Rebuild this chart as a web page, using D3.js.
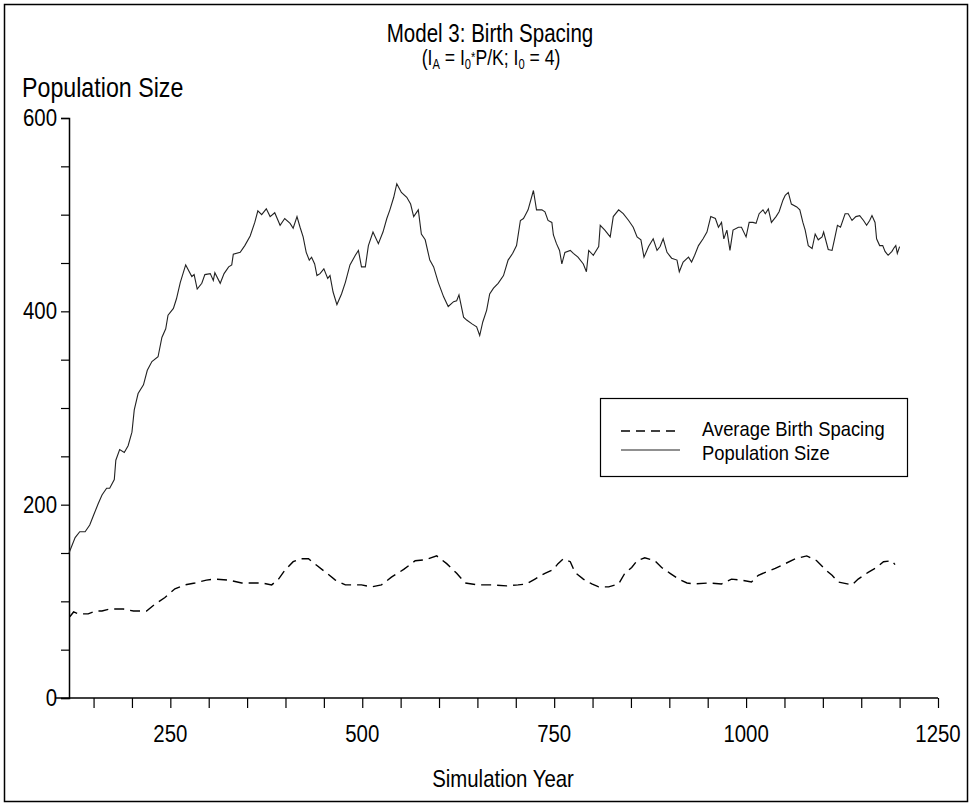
<!DOCTYPE html>
<html>
<head>
<meta charset="utf-8">
<script src="https://cdn.jsdelivr.net/npm/d3@7"></script>
<style>
  body { margin: 0; background: #fff; }
  svg text { font-family: "Liberation Sans", Arial, sans-serif; fill: #000; }
</style>
</head>
<body>
<div id="chart"></div>
<script>
// population size (year, value)
var popYear = [118, 126, 132, 139, 145, 150, 156, 161, 167, 171, 177, 179, 184, 190, 195, 200, 203, 208,
  215, 220, 226, 234, 239, 244, 247, 254, 258, 263, 270, 278, 281, 285, 291, 295, 302, 306, 308, 315,
  320, 326, 330, 332, 341, 347, 354, 360, 364, 369, 375, 380, 386, 393, 399, 406, 410, 415, 419, 423,
  427, 431, 434, 438, 441, 445, 450, 455, 458, 462, 467, 473, 478, 484, 491, 495, 499, 504, 508, 514,
  521, 527, 532, 536, 541, 545, 551, 558, 563, 567, 573, 577, 582, 588, 593, 599, 606, 612, 619, 623,
  626, 632, 636, 643, 649, 653, 657, 662, 666, 671, 677, 684, 690, 696, 701, 706, 710, 712, 716, 723,
  727, 734, 738, 742, 747, 749, 753, 757, 760, 764, 771, 775, 781, 788, 792, 795, 801, 808, 810, 816,
  823, 827, 834, 840, 847, 853, 858, 863, 867, 873, 879, 884, 888, 892, 897, 903, 910, 913, 918, 925,
  929, 933, 938, 944, 949, 954, 960, 964, 968, 971, 975, 979, 983, 990, 994, 1000, 1004, 1009, 1013,
  1017, 1022, 1025, 1029, 1033, 1039, 1043, 1048, 1051, 1055, 1059, 1066, 1070, 1074, 1077, 1081,
  1086, 1090, 1094, 1099, 1101, 1107, 1112, 1115, 1119, 1123, 1129, 1133, 1138, 1143, 1148, 1153,
  1157, 1161, 1164, 1168, 1170, 1174, 1178, 1181, 1185, 1190, 1193, 1195, 1197, 1200];
var popSize = [150, 166, 172, 172, 179, 189, 201, 210, 217, 217, 226, 246, 257, 254, 261, 275, 298, 315,
  324, 339, 348, 353, 373, 382, 396, 403, 413, 430, 448, 436, 438, 423, 429, 438, 439, 432, 440, 429,
  439, 446, 448, 459, 461, 468, 478, 492, 504, 500, 506, 498, 502, 489, 496, 491, 486, 498, 487, 477,
  461, 453, 456, 449, 437, 439, 444, 434, 437, 420, 407, 418, 430, 448, 458, 463, 446, 446, 468, 482,
  470, 482, 496, 505, 518, 532, 523, 518, 511, 498, 505, 480, 474, 453, 446, 430, 415, 405, 410, 411,
  417, 394, 391, 387, 384, 375, 389, 401, 418, 424, 429, 437, 453, 460, 468, 494, 496, 499, 505, 525,
  505, 505, 503, 494, 492, 479, 470, 463, 449, 461, 463, 460, 456, 449, 441, 463, 458, 467, 489, 484,
  477, 498, 505, 501, 494, 487, 477, 474, 456, 467, 475, 463, 467, 475, 461, 455, 453, 441, 451, 456,
  451, 458, 468, 475, 482, 498, 496, 487, 492, 475, 484, 463, 484, 487, 487, 477, 492, 492, 491, 501,
  505, 501, 506, 492, 498, 503, 515, 520, 523, 511, 508, 505, 492, 484, 468, 465,
  480, 474, 477, 482, 464, 463, 474, 489, 487, 501, 501, 494, 498, 499, 494, 489,
  494, 499, 492, 475, 468, 468, 462, 458, 462, 466, 468, 460, 467, 464];

// average birth spacing (year, value)
var spacingYear = [119, 124, 130, 143, 152, 161, 171, 189, 202, 219, 230, 243, 256, 269, 282, 297, 308,
  326, 343, 369, 382, 391, 399, 410, 419, 430, 441, 454, 465, 478, 499, 512, 525, 538, 554, 569, 582,
  597, 610, 623, 634, 651, 669, 688, 703, 714, 725, 738, 749, 755, 762, 771, 777, 788, 799, 808, 821,
  834, 842, 851, 858, 868, 881, 890, 901, 912, 923, 933, 951, 968, 981, 994, 1007, 1016, 1025, 1038,
  1051, 1064, 1079, 1092, 1103, 1112, 1120, 1138, 1146, 1159, 1170, 1179, 1190, 1194];
var spacingValue = [84, 89, 87, 87, 90, 90, 92, 92, 90, 90, 97, 104, 113, 117, 119, 122, 123, 122, 119,
  119, 117, 123, 132, 141, 144, 144, 137, 129, 122, 117, 117, 115, 117, 125, 133, 142, 143, 147, 139,
  129, 119, 117, 117, 116, 117, 118, 123, 129, 133, 139, 144, 141, 130, 123, 118, 115, 115, 118, 129,
  135, 142, 145, 142, 135, 129, 123, 119, 118, 119, 118, 123, 122, 120, 127, 130, 134, 139, 144, 147,
  142, 133, 127, 120, 117, 123, 130, 135, 141, 142, 138];

var yTicks = [0, 200, 400, 600];
var xTicks = [250, 500, 750, 1000, 1250];

var W = 972, H = 806;
var svg = d3.select("#chart").append("svg")
    .attr("width", W)
    .attr("height", H);

// outer frame
svg.append("rect")
    .attr("x", 4.5).attr("y", 4.5)
    .attr("width", W - 9).attr("height", H - 9)
    .attr("fill", "none").attr("stroke", "#000").attr("stroke-width", 1.5);

var x = d3.scaleLinear().domain([118, 1250]).range([69, 938]);
var y = d3.scaleLinear().domain([0, 600]).range([698, 118]);

// condensed text helper (the original font is narrow)
function ctext(px, py, str, size, anchor, sx) {
    return svg.append("text")
        .attr("transform", `translate(${px},${py}) scale(${sx || 0.85},1)`)
        .attr("text-anchor", anchor || "start")
        .style("font-size", size + "px")
        .text(str);
}

// axes
var xAxis = svg.append("g")
    .attr("transform", "translate(0,698)")
    .call(d3.axisBottom(x).tickValues(d3.range(150, 1251, 50)).tickSize(10).tickFormat(""));
var yAxis = svg.append("g")
    .attr("transform", "translate(69,0)")
    .call(d3.axisLeft(y).tickValues(d3.range(0, 601, 50)).tickSize(8).tickFormat(""));
[xAxis, yAxis].forEach(function(g) {
    g.select(".domain").attr("stroke", "#000").attr("stroke-width", 1.5);
    g.selectAll(".tick line").attr("stroke", "#000").attr("stroke-width", 1.2);
});
xAxis.select(".domain").attr("d", "M55,0H938");

yTicks.forEach(function(v) { ctext(57, y(v) + 8, v, 24, "end"); });
xTicks.forEach(function(v) { ctext(x(v), 742, v, 24, "middle"); });

// titles
ctext(490, 42, "Model 3: Birth Spacing", 26, "middle", 0.79);
var sub = svg.append("text")
    .attr("transform", "translate(491,65) scale(0.8,1)")
    .attr("text-anchor", "middle")
    .style("font-size", "22px");
sub.append("tspan").text("(I");
sub.append("tspan").attr("baseline-shift", "-30%").style("font-size", "14px").text("A");
sub.append("tspan").text(" = I");
sub.append("tspan").attr("baseline-shift", "-30%").style("font-size", "14px").text("0");
sub.append("tspan").attr("baseline-shift", "25%").style("font-size", "14px").text("*");
sub.append("tspan").text("P/K; I");
sub.append("tspan").attr("baseline-shift", "-30%").style("font-size", "14px").text("0");
sub.append("tspan").text(" = 4)");

ctext(22, 97, "Population Size", 27, "start", 0.86);
ctext(503, 787, "Simulation Year", 24, "middle");

// series
var popData = popYear.map(function(d, i) { return [d, popSize[i]]; });
var spacingData = spacingYear.map(function(d, i) { return [d, spacingValue[i]]; });
var line = d3.line().x(d => x(d[0])).y(d => y(d[1]));

svg.append("path")
    .datum(popData)
    .attr("d", line)
    .attr("fill", "none").attr("stroke", "#222").attr("stroke-width", 1.1);

svg.append("path")
    .datum(spacingData)
    .attr("d", line)
    .attr("fill", "none").attr("stroke", "#000").attr("stroke-width", 1.4)
    .attr("stroke-dasharray", "10,6");

// legend
var lg = svg.append("g");
lg.append("rect")
    .attr("x", 600.5).attr("y", 398.5).attr("width", 307).attr("height", 78)
    .attr("fill", "#fff").attr("stroke", "#000").attr("stroke-width", 1.2);
lg.append("line").attr("x1", 621).attr("x2", 680).attr("y1", 431).attr("y2", 431)
    .attr("stroke", "#000").attr("stroke-width", 1.4).attr("stroke-dasharray", "9,6");
lg.append("line").attr("x1", 621).attr("x2", 680).attr("y1", 450).attr("y2", 450)
    .attr("stroke", "#222").attr("stroke-width", 1.1);
ctext(702, 436, "Average Birth Spacing", 20, "start", 0.92);
ctext(702, 460, "Population Size", 20, "start", 0.92);
</script>
</body>
</html>
